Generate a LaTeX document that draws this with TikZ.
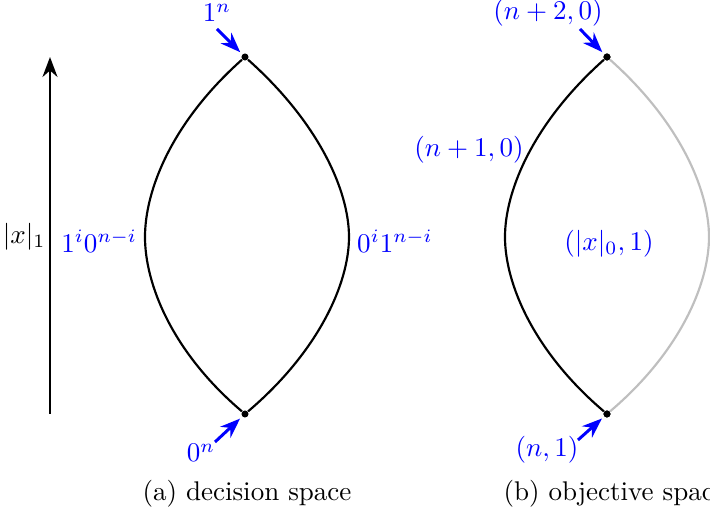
\documentclass[tikz,border=0pt]{standalone}
\usepackage{amsmath,amssymb}
\usepackage{tikz}
\usetikzlibrary{positioning,arrows.meta}
\usepackage{xcolor}

\begin{document}
\begin{tikzpicture}[x=0.37pt,y=-0.37pt,>={Stealth[length=2.6mm]},
  dot/.style={circle,fill=black,inner sep=0pt,minimum size=2.6pt},
  lbl/.style={text=blue,inner sep=1pt},
  pointer/.style={->,blue,line width=1.1pt,shorten >=1pt},
  curve/.style={line width=0.8pt}]
\useasboundingbox (0,0) rectangle (710,516);
% (a) decision space
\node[dot] (top) at (245,57) {};
\node[dot] (bot) at (245,414) {};
\coordinate (lft) at (145,237);
\coordinate (rgt) at (349,237);
\draw[curve] (top) .. controls (172,122) and (145,190) .. (lft)
  .. controls (145,284) and (172,352) .. (bot);
\draw[curve] (top) .. controls (318,122) and (349,190) .. (rgt)
  .. controls (349,284) and (318,352) .. (bot);
\coordinate (ybot) at (50,414);
\coordinate (ytop) at (50,57);
\draw[->,line width=1pt] (ybot) -- (ytop);
\node[anchor=east,inner sep=0pt] (norm) at (46,237) {$|x|_1$};
\node[lbl] (ones) at (217,13) {$1^n$};
\node[lbl] (zeros) at (201,453) {$0^n$};
\node[lbl,anchor=east] (mixl) at (140,241) {$1^i0^{n-i}$};
\node[lbl,anchor=west] (mixr) at (354,241) {$0^i1^{n-i}$};
\coordinate (onestail) at (217,29);
\coordinate (zerostail) at (215,442);
\draw[pointer] (onestail) -- (top);
\draw[pointer] (zerostail) -- (bot);
\node (capa) at (247,494) {(a) decision space};
% (b) objective space
\node[dot] (otop) at (607,57) {};
\node[dot] (obot) at (607,414) {};
\coordinate (olft) at (505,237);
\coordinate (orgt) at (709,237);
\draw[curve,black!25] (otop) .. controls (680,122) and (709,190) .. (orgt)
  .. controls (709,284) and (680,352) .. (obot);
\draw[curve] (otop) .. controls (534,122) and (505,190) .. (olft)
  .. controls (505,284) and (534,352) .. (obot);
\node[dot] at (otop) {};
\node[dot] at (obot) {};
\node[lbl] (ptop) at (548,13) {$(n+2,0)$};
\node[lbl] (pbot) at (547,450) {$(n,1)$};
\node[lbl] (pmid) at (469,150) {$(n+1,0)$};
\node[lbl] (pin) at (609,244) {$(|x|_0,1)$};
\coordinate (ptoptail) at (580,29);
\coordinate (pbottail) at (578,440);
\draw[pointer] (ptoptail) -- (otop);
\draw[pointer] (pbottail) -- (obot);
\node[anchor=west] (capb) at (494,494) {(b) objective space};
\end{tikzpicture}
\end{document}
